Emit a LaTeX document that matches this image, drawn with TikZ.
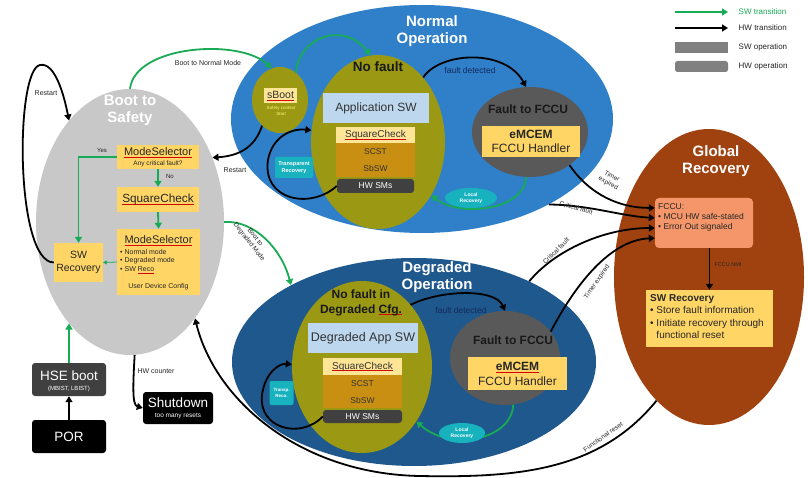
\documentclass[tikz,border=0pt]{standalone}
\usepackage{fontspec}
\setmainfont{Liberation Sans}
\usetikzlibrary{shapes.geometric,arrows.meta,calc}

\definecolor{bootgray}{RGB}{200,200,200}
\definecolor{normblue}{RGB}{47,128,201}
\definecolor{degblue}{RGB}{31,88,140}
\definecolor{olivefill}{RGB}{155,153,20}
\definecolor{faultgray}{RGB}{89,89,89}
\definecolor{swyellow}{RGB}{255,214,102}
\definecolor{sqyellow}{RGB}{255,229,150}
\definecolor{golden}{RGB}{201,143,18}
\definecolor{appblue}{RGB}{189,215,238}
\definecolor{hwdark}{RGB}{64,64,64}
\definecolor{recoteal}{RGB}{23,178,190}
\definecolor{rustbrown}{RGB}{160,66,16}
\definecolor{salmonbox}{RGB}{244,150,106}
\definecolor{swgreen}{RGB}{24,170,84}
\definecolor{navytext}{RGB}{20,40,90}
\definecolor{legendgray}{RGB}{128,128,128}

% font size helper: size / baseline skip in pt
\newcommand\fz[2]{\fontsize{#1pt}{#2pt}\selectfont}
% red proofing mark under a word
\newsavebox{\splbox}
\newcommand\spl[1]{\sbox\splbox{#1}\rlap{\textcolor{red!85!black}{\rule[-2pt]{\wd\splbox}{0.6pt}}}\usebox\splbox}

\tikzset{
  ell/.style={ellipse, inner sep=0pt},
  title/.style={text=white, font=\bfseries\fz{15}{17}, align=center, inner sep=0pt},
  swbox/.style={fill=swyellow, inner sep=0pt, align=center, text=black!85},
  sqcbox/.style={fill=sqyellow, inner sep=0pt, text=black!80},
  goldbox/.style={fill=golden, inner sep=0pt, text=black!80, font=\fz{8.5}{9}},
  hwbox/.style={rounded corners=3pt, inner sep=0pt, align=center, text=white},
  txt/.style={inner sep=0pt, text=black!85},
  swarrow/.style={draw=swgreen, line width=1.8pt, -{Triangle[length=6pt,width=7pt]}},
  hwarrow/.style={draw=black, line width=1.8pt, -{Triangle[length=6pt,width=7pt]}},
  lbl/.style={font=\fz{7}{8}, inner sep=0.5pt, text=black!85, align=center},
  reco/.style={fill=recoteal, text=white, font=\bfseries\fz{5}{6}, align=center, inner sep=0pt},
}

\begin{document}
\begin{tikzpicture}[x=1pt,y=-1pt]
\useasboundingbox (0,0) rectangle (808,478);
\fill[white] (0,0) rectangle (808,478);

% ---------- legend ----------
\coordinate (lgA1) at (675,12); \coordinate (lgA2) at (728,12);
\coordinate (lgB1) at (675,28); \coordinate (lgB2) at (728,28);
\draw[swarrow, line width=1.8pt] (lgA1) -- (lgA2);
\draw[hwarrow, line width=1.8pt] (lgB1) -- (lgB2);
\node[fill=legendgray, minimum width=53pt, minimum height=11pt, inner sep=0pt] (lgSW) at (701.5,47.5) {};
\node[fill=legendgray, rounded corners=2.5pt, minimum width=53pt, minimum height=11pt, inner sep=0pt] (lgHW) at (701.5,66.5) {};
\node[lbl, anchor=west, font=\fz{8}{9}, text=swgreen] (lgT1) at (738,12) {SW transition};
\node[lbl, anchor=west, font=\fz{8}{9}] (lgT2) at (738,28) {HW transition};
\node[lbl, anchor=west, font=\fz{8}{9}] (lgT3) at (738,47.5) {SW operation};
\node[lbl, anchor=west, font=\fz{8}{9}] (lgT4) at (738,66.5) {HW operation};

% ---------- big state ellipses ----------
\node[ell, fill=bootgray, minimum width=188pt, minimum height=266pt] (boot) at (130,222) {};
\node[ell, fill=normblue, minimum width=382pt, minimum height=228pt] (normal) at (422,119) {};
\node[ell, fill=degblue, minimum width=364pt, minimum height=208pt] (deg) at (414,362) {};
\node[ell, fill=rustbrown, minimum width=190pt, minimum height=296pt] (global) at (709,277) {};

\node[title] (bootT) at (130,110.5) {Boot to\\Safety};
\node[title] (normT) at (432,31) {Normal\\Operation};
\node[title] (degT) at (437,277.5) {Degraded\\Operation};
\node[title] (globT) at (716,161.5) {Global\\Recovery};

% ---------- boot to safety contents ----------
\node[swbox, minimum width=82pt, minimum height=24pt] (ms1) at (158,157) {};
\node[txt, font=\fz{11}{11}] (ms1T) at (158,152.5) {\spl{ModeSelector}};
\node[txt, font=\fz{6.5}{7}] (ms1S) at (158,164) {Any critical fault?};
\node[swbox, minimum width=82pt, minimum height=25pt, font=\fz{11.8}{12}] (sqc) at (158,199.5) {\spl{SquareCheck}};
\node[swbox, minimum width=83pt, minimum height=66pt] (ms2) at (158.5,262) {};
\node[txt, font=\fz{11}{12}] (ms2T) at (158.5,241) {\spl{ModeSelector}};
\node[txt, anchor=north west, font=\fz{7}{8.5}, align=left] (ms2L) at (120,249)
  {• Normal mode\\• Degraded mode\\• SW \spl{Reco}};
\node[txt, font=\fz{7}{8}] (ms2U) at (158.5,287) {User Device Config};
\node[swbox, minimum width=49pt, minimum height=39pt, font=\fz{10.5}{12.5}] (swreco) at (78.5,262.5) {SW\\Recovery};

\node[hwbox, fill=hwdark, minimum width=74pt, minimum height=33pt] (hse) at (69,379.5) {};
\node[txt, text=white, font=\fz{13.5}{14}] (hseT) at (69,375.5) {HSE boot};
\node[txt, text=white, font=\fz{6}{6}] (hseS) at (69,389) {(MBIST, LBIST)};
\node[hwbox, fill=black, minimum width=74pt, minimum height=33pt, font=\fz{13.5}{14}] (por) at (69,436.5) {POR};
\node[hwbox, fill=black, minimum width=70pt, minimum height=32pt] (shut) at (178,408) {};
\node[txt, text=white, font=\fz{13.5}{14}] (shutT) at (178,402.5) {Shutdown};
\node[txt, text=white, font=\fz{6.5}{7}] (shutS) at (178,416.5) {too many resets};

% ---------- normal operation contents ----------
\node[ell, fill=olivefill, minimum width=56pt, minimum height=66pt] (sboot) at (280,100) {};
\node[sqcbox, minimum width=33pt, minimum height=15pt, font=\fz{10.5}{11}] (sbootL) at (280.5,95.5) {\spl{sBoot}};
\node[txt, font=\fz{4.5}{5.5}, text=yellow!55!white, align=center] (sbootS) at (281,111) {Safety context\\Start};

\node[ell, fill=olivefill, minimum width=134pt, minimum height=174pt] (nofault) at (378,142) {};
\node[txt, font=\bfseries\fz{13.5}{14}, text=black!90] (nofaultT) at (378,67) {No fault};
\node[fill=appblue, minimum width=106pt, minimum height=30pt, inner sep=0pt, font=\fz{12}{12}, text=black!80] (appsw) at (376,108) {Application SW};
\node[sqcbox, minimum width=79pt, minimum height=16pt, font=\fz{10}{10}] (sqcN) at (375.5,135) {\spl{SquareCheck}};
\node[goldbox, minimum width=79pt, minimum height=17pt] (scstN) at (375.5,151.5) {SCST};
\node[goldbox, minimum width=79pt, minimum height=17pt] (sbswN) at (375.5,168.5) {SbSW};
\node[hwbox, fill=hwdark, minimum width=77pt, minimum height=14pt, font=\fz{8.5}{9}] (hwN) at (375.5,186) {HW SMs};

\node[ell, fill=faultgray, minimum width=116pt, minimum height=90pt] (faultN) at (530,132) {};
\node[txt, font=\bfseries\fz{12}{12}, text=black!90] (faultNT) at (528,109) {Fault to FCCU};
\node[swbox, minimum width=98pt, minimum height=31pt, font=\fz{12}{14}] (emN) at (531,141.5) {{\bfseries eMCEM}\\FCCU Handler};

% ---------- degraded operation contents ----------
\node[ell, fill=olivefill, minimum width=140pt, minimum height=172pt] (ndeg) at (362,367) {};
\node[txt, font=\bfseries\fz{12}{15}, align=center, text=black!90] (ndegT) at (361,302.5) {No fault in\\Degraded \spl{Cfg.}};
\node[fill=appblue, minimum width=110pt, minimum height=30pt, inner sep=0pt, font=\fz{12.5}{13}, text=black!80] (dapp) at (363,338) {Degraded App SW};
\node[sqcbox, minimum width=79pt, minimum height=17pt, font=\fz{10}{10}] (sqcD) at (362.5,366.5) {\spl{SquareCheck}};
\node[goldbox, minimum width=79pt, minimum height=17pt] (scstD) at (362.5,383.5) {SCST};
\node[goldbox, minimum width=79pt, minimum height=16pt] (sbswD) at (362.5,400) {SbSW};
\node[hwbox, fill=hwdark, minimum width=79pt, minimum height=13pt, font=\fz{8.5}{9}] (hwD) at (362.5,416.5) {HW SMs};

\node[ell, fill=faultgray, minimum width=110pt, minimum height=94pt] (faultD) at (505,358) {};
\node[txt, font=\bfseries\fz{12}{12}, text=black!90] (faultDT) at (513,340) {Fault to FCCU};
\node[swbox, minimum width=99pt, minimum height=33pt, font=\fz{12}{15}] (emD) at (517.5,373.5) {{\bfseries\spl{eMCEM}}\\FCCU Handler};

% ---------- global recovery contents ----------
\node[fill=salmonbox, rounded corners=4pt, minimum width=98pt, minimum height=50pt, inner sep=0pt] (fccu) at (704,223) {};
\node[txt, anchor=north west, align=left, font=\fz{8.5}{10}] (fccuT) at (658,203)
  {FCCU:\\• MCU HW safe-stated\\• Error Out signaled};
\node[swbox, minimum width=127pt, minimum height=57pt] (swrg) at (709.5,318.5) {};
\node[txt, anchor=north west, align=left, font=\fz{10}{12.5}] (swrgT) at (650,294)
  {\textbf{SW Recovery}\\• Store fault information\\• Initiate recovery through\\\phantom{• }functional reset};

% ---------- transitions ----------
% boot flow
\draw[swarrow] (ms1.west) -| (swreco.north);
\draw[swarrow] (ms1.south) -- (sqc.north);
\draw[swarrow] (sqc.south) -- (ms2.north);
\draw[swarrow, line width=0.8pt, -{Triangle[length=3.5pt,width=4pt]}] (ms2.west) -- (swreco.east);
\draw[swarrow] (hse.north) -- (hse.north |- boot.239);
\draw[hwarrow] (por.north) -- (hse.south);
\draw[hwarrow] (boot.272) .. controls (133,385) and (132,405) .. (shut.west);
\draw[hwarrow] (swreco.west) .. controls (15,262) and (15,70) .. (40,65)
                .. controls (55,62) and (64,95) .. (boot.121);

% boot to the operating modes
\draw[swarrow] (boot.north) .. controls (135,45) and (240,38) .. (sboot.105);
\draw[swarrow] (boot.east) .. controls (255,220) and (282,250) .. (deg.148);
\draw[hwarrow] (sboot.235) .. controls (255,148) and (238,156) .. (boot.38);

% normal operation
\draw[swarrow] (sboot.60) .. controls (300,35) and (345,22) .. (nofault.95);
\draw[hwarrow] (hwN.west) .. controls (310,210) and (262,200) .. (268,160)
                .. controls (272,138) and (290,128) .. (nofault.170);
\draw[hwarrow] (nofault.55) .. controls (440,52) and (505,48) .. (faultN.95);
\draw[swarrow] (faultN.-95) .. controls (525,210) and (460,218) .. (nofault.-45);

% degraded operation
\draw[hwarrow] (hwD.west) .. controls (300,440) and (258,428) .. (262,395)
                .. controls (265,372) and (280,363) .. (ndeg.178);
\draw[hwarrow] (ndeg.52) .. controls (440,290) and (495,288) .. (faultD.north);
\draw[swarrow] (faultD.-80) .. controls (512,440) and (450,452) .. (ndeg.-45);

% escalation to global recovery
\draw[hwarrow] (faultN.-40) .. controls (590,195) and (620,208) .. ($(fccu.north west)!0.2!(fccu.south west)$);
\draw[hwarrow] (normal.-34) .. controls (590,205) and (620,216) .. ($(fccu.north west)!0.4!(fccu.south west)$);
\draw[hwarrow] (deg.35) .. controls (555,250) and (605,228) .. ($(fccu.north west)!0.6!(fccu.south west)$);
\draw[hwarrow] (faultD.30) .. controls (575,285) and (610,240) .. ($(fccu.north west)!0.8!(fccu.south west)$);
\draw[hwarrow] (fccu.south -| swrg.north) -- (swrg.north);
\draw[hwarrow] (global.247) .. controls (600,470) and (520,478) .. (420,476)
                .. controls (300,474) and (215,400) .. (boot.-56);

% ---------- recovery tags ----------
\node[reco, rounded corners=2pt, minimum width=38pt, minimum height=21pt, font=\bfseries\fz{5.5}{7}] (trN) at (294,167.5) {Transparent\\Recovery};
\node[reco, ellipse, minimum width=52pt, minimum height=20pt] (lrN) at (471,198) {Local\\Recovery};
\node[reco, rounded corners=2pt, minimum width=24pt, minimum height=24pt, font=\bfseries\fz{4.5}{6}] (trD) at (281.5,393) {Transp.\\Reco.};
\node[reco, ellipse, minimum width=46pt, minimum height=20pt] (lrD) at (462,433) {Local\\Recovery};

% ---------- transition labels ----------
\node[lbl, font=\fz{6}{6}] (lbYes) at (102,150) {Yes};
\node[lbl, font=\fz{6}{6}] (lbNo) at (170,176) {No};
\node[lbl] (lbR1) at (46,93) {Restart};
\node[lbl] (lbR2) at (235,170) {Restart};
\node[lbl] (lbBN) at (208,63) {Boot to Normal Mode};
\node[lbl, rotate=-52, font=\fz{6.5}{7.5}] (lbBD) at (252,240) {Boot to\\Degraded Mode};
\node[lbl] (lbHW) at (156,371) {HW counter};
\node[lbl, font=\fz{8.5}{9}, text=navytext] (lbFD1) at (470,70) {fault detected};
\node[lbl, font=\fz{8.5}{9}, text=navytext] (lbFD2) at (461,310) {fault detected};
\node[lbl, rotate=-28, font=\fz{6.5}{7.5}] (lbTE1) at (610,180) {Timer\\expired};
\node[lbl, rotate=-15, font=\fz{6.5}{7.5}] (lbCF1) at (576,208) {Critical fault};
\node[lbl, rotate=45, font=\fz{6.5}{7.5}] (lbCF2) at (556,251) {Critical fault};
\node[lbl, rotate=55, font=\fz{6.5}{7.5}] (lbTE2) at (597,282) {Timer expired};
\node[lbl, font=\fz{5.5}{6}] (lbNMI) at (728,265) {FCCU NMI};
\node[lbl, rotate=35, font=\fz{6.5}{7.5}] (lbFR) at (603,437) {Functional reset};
\end{tikzpicture}
\end{document}
